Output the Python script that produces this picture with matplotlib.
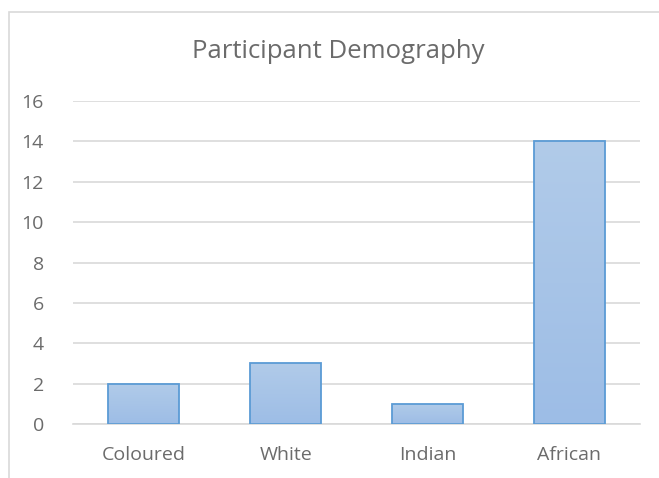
import numpy as np
import matplotlib
matplotlib.use('agg')
import matplotlib.pyplot as plt
from matplotlib.patches import Rectangle
from matplotlib.colors import LinearSegmentedColormap

categories = ['Coloured', 'White', 'Indian', 'African']
counts = [2, 3, 1, 14]
yticks = [0, 2, 4, 6, 8, 10, 12, 14, 16]

text_color = '#6b6b6b'
grid_color = '#d9d9d9'
edge_color = '#5b9bd5'
bar_cmap = LinearSegmentedColormap.from_list('bar', ['#9dbde6', '#b1cbe9'])

plt.rcParams['font.family'] = ['Open Sans', 'DejaVu Sans']

fig = plt.figure(figsize=(6.59, 4.78), dpi=100)
W, H = 659, 478

# chart outline (runs off the right and bottom edges)
fig.add_artist(Rectangle((9 / W, -0.05), 1.0, 1 - 12 / H + 0.05,
                         transform=fig.transFigure, fill=False,
                         edgecolor=grid_color, lw=1.2))

ax = fig.add_axes([73 / W, 1 - 424 / H, 567 / W, 323 / H])

x = np.arange(len(categories))
bars = ax.bar(x, counts, width=0.5, color='none', edgecolor=edge_color,
              lw=1.3, zorder=3)
grad = np.linspace(0, 1, 256).reshape(-1, 1)
for b in bars:
    x0, y0 = b.get_x(), b.get_y()
    im = ax.imshow(grad, cmap=bar_cmap, aspect='auto', origin='lower',
                   extent=[x0, x0 + b.get_width(), y0, y0 + b.get_height()],
                   zorder=2)
    im.set_clip_path(b)
ax.set_xlim(-0.5, len(categories) - 0.5)
ax.set_ylim(0, 16)

ax.set_yticks(yticks)
ax.yaxis.grid(True, color=grid_color, lw=1.2)
ax.set_axisbelow(True)
for s in ['top', 'right', 'left']:
    ax.spines[s].set_visible(False)
ax.spines['bottom'].set_color(grid_color)
ax.spines['bottom'].set_linewidth(1.2)
ax.tick_params(axis='both', length=0, colors=text_color, labelsize=14)
ax.tick_params(axis='y', pad=21)
ax.tick_params(axis='x', pad=16)
ax.set_xticks(x)
ax.set_xticklabels(categories)

fig.text(338 / W, 1 - 52 / H, 'Participant Demography',
         ha='center', va='center', fontsize=18.5, color=text_color)

fig.savefig('out.png', dpi=100)
